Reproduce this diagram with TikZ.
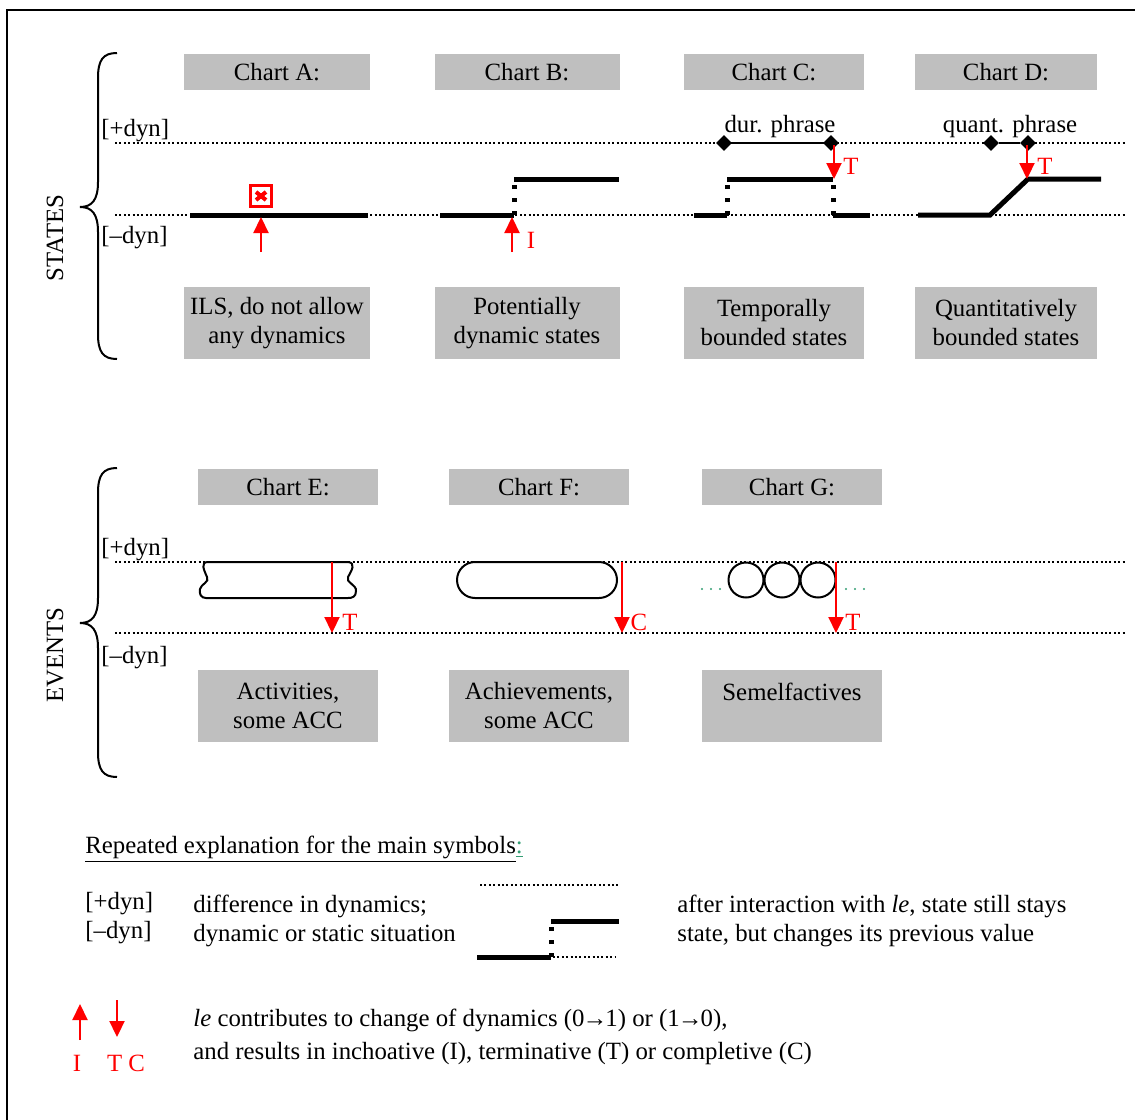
\documentclass[tikz,border=0pt]{standalone}
\usepackage{fontspec}
\setmainfont{Liberation Serif}
\usetikzlibrary{positioning}
\usetikzlibrary{arrows.meta}
\usetikzlibrary{shapes.misc}
\usetikzlibrary{shapes.geometric}
\definecolor{boxgray}{rgb}{0.75,0.75,0.75}
\definecolor{dotgreen}{rgb}{0.2,0.62,0.45}

\begin{document}
\begin{tikzpicture}[
            x = 0.5pt, y = -0.5pt, % one unit = one pixel of the sketch
            > = {Triangle[length=8pt, width=7.5pt]}, % arrow head style
            font = \fontsize{12.4}{14.5}\selectfont,
            dynline/.style = {line width=1pt, dash pattern=on 1pt off 1.2pt},
            stateline/.style = {line width=2.5pt},
            stepline/.style = {line width=2.5pt, dash pattern=on 2.2pt off 4.3pt},
            lechange/.style = {->, red, line width=1.1pt},
            chartbox/.style = {fill=boxgray, minimum width=90pt, minimum height=18pt, inner sep=0pt},
            descbox/.style = {fill=boxgray, minimum width=90pt, minimum height=36pt, inner sep=0pt, align=center},
            lbl/.style = {inner sep=0pt, anchor=west},
            redlbl/.style = {inner sep=0pt, text=red},
            endmark/.style = {diamond, fill=black, inner sep=0pt, minimum size=8pt},
            phrase/.style = {line width=1pt},
            shapeline/.style = {line width=1pt}
        ]

        \useasboundingbox (0,0) rectangle (1135,1119);
        \draw[line width=1pt] (7,1125) -- (7,10) -- (1140,10);

        % braces and group labels
        \foreach \t/\m/\b in {53/207/359, 468/623/777}
            \draw[line width=1pt] (117,\t) .. controls (103,\t) and (98,\t+7) .. (98,\t+25) -- (98,\m-25)
                .. controls (98,\m-7) and (92,\m) .. (80,\m) .. controls (92,\m) and (98,\m+7) .. (98,\m+25)
                -- (98,\b-25) .. controls (98,\b-7) and (103,\b) .. (117,\b);
        \node[rotate=90] (states) at (55,238) {STATES};
        \node[rotate=90] (events) at (55,655) {EVENTS};

        \node[lbl] (plusS) at (101,131) {[+dyn]};
        \node[lbl] (minusS) at (101,238) {[–dyn]};
        \node[lbl] (plusE) at (101,550) {[+dyn]};
        \node[lbl] (minusE) at (101,658) {[–dyn]};

        \foreach \y in {143,215,562,633}
            \draw[dynline] (115,\y) -- (1125,\y);

        % states
        \node[chartbox, minimum width=93pt] (chA) at (277,72) {Chart A:};
        \node[chartbox, minimum width=92.5pt] (chB) at (527,72) {Chart B:};
        \node[chartbox] (chC) at (774,72) {Chart C:};
        \node[chartbox, minimum width=91pt] (chD) at (1006,72) {Chart D:};

        \node[descbox, minimum width=93pt] (dsA) at (277,323) {ILS, do not allow\\any dynamics};
        \node[descbox, minimum width=92.5pt] (dsB) at (527,323) {Potentially\\dynamic states};
        \node[descbox] (dsC) at (774,323) {Temporally\\bounded states};
        \node[descbox, minimum width=91pt] (dsD) at (1006,323) {Quantitatively\\bounded states};

        % chart A
        \draw[stateline] (190,215) -- (368,215);
        \node[draw=red, line width=1.1pt, minimum size=10.5pt, inner sep=0pt] (xA) at (261,196) {};
        \draw[red, line width=2pt] ([shift={(-5,-4)}]xA.center) -- ([shift={(5,4)}]xA.center);
        \draw[red, line width=2pt] ([shift={(-5,4)}]xA.center) -- ([shift={(5,-4)}]xA.center);
        \coordinate (fromA) at (261,252);
        \coordinate (toA) at (261,217);
        \draw[lechange] (fromA) -- (toA);

        % chart B
        \draw[stateline] (440,215) -- (514,215);
        \draw[stepline] (514,215) -- (514,179);
        \draw[stateline] (514,179) -- (619,179);
        \coordinate (fromB) at (512,252);
        \coordinate (toB) at (512,217);
        \draw[lechange] (fromB) -- (toB);
        \node[redlbl] (iB) at (531,240) {I};

        % chart C
        \draw[stateline] (694,215) -- (727,215);
        \draw[stepline] (727,215) -- (727,179);
        \draw[stateline] (727,179) -- (833,179);
        \draw[stepline] (833,215) -- (833,179);
        \draw[stateline] (833,215) -- (870,215);
        \node[endmark] (durL) at (724,143) {};
        \node[endmark] (durR) at (831,143) {};
        \draw[phrase] (durL) -- (durR);
        \node (dur) at (780,127) {dur. phrase};
        \coordinate (fromC) at (834,145);
        \coordinate (toC) at (834,179);
        \draw[lechange] (fromC) -- (toC);
        \node[redlbl] (tC) at (851,166) {T};

        % chart D
        \draw[stateline] (918,215) -- (990,215) -- (1028,179) -- (1101,179);
        \node[endmark] (quantL) at (991,143) {};
        \node[endmark] (quantR) at (1028,143) {};
        \draw[phrase] (quantL) -- (quantR);
        \node (quant) at (1010,127) {quant. phrase};
        \coordinate (fromD) at (1027,145);
        \coordinate (toD) at (1027,179);
        \draw[lechange] (fromD) -- (toD);
        \node[redlbl] (tD) at (1045,166) {T};

        % events
        \node[chartbox] (chE) at (288,487) {Chart E:};
        \node[chartbox] (chF) at (539,487) {Chart F:};
        \node[chartbox] (chG) at (792,487) {Chart G:};

        \node[descbox] (dsE) at (288,706) {Activities,\\some ACC};
        \node[descbox] (dsF) at (539,706) {Achievements,\\some ACC};
        \node[descbox] (dsG) at (792,706) {Semelfactives\\\phantom{A}};

        % chart E
        \draw[shapeline] (208,562) -- (348,562) .. controls (356,563) and (352,570) .. (348,577)
            .. controls (345,582) and (357,585) .. (356,591) .. controls (356,597) and (352,598) .. (348,598)
            -- (206,598) .. controls (201,598) and (199,594) .. (200,589)
            .. controls (201,584) and (210,582) .. (207,577) .. controls (204,570) and (200,562) .. (208,562) -- cycle;
        \coordinate (fromE) at (332,562);
        \coordinate (toE) at (332,633);
        \draw[lechange] (fromE) -- (toE);
        \node[redlbl] (tE) at (350,622) {T};

        % chart F
        \node[rounded rectangle, draw, shapeline, minimum width=80pt, minimum height=18pt, inner sep=0pt] (pillF) at (537,580) {};
        \coordinate (fromF) at (622,562);
        \coordinate (toF) at (622,633);
        \draw[lechange] (fromF) -- (toF);
        \node[redlbl] (cF) at (639,622) {C};

        % chart G
        \foreach \i/\x in {1/746, 2/782, 3/818}
            \node[circle, draw, shapeline, minimum size=17.5pt, inner sep=0pt] (semG\i) at (\x,580) {};
        \foreach \x in {702,711,720,846,855,864}
            \fill[dotgreen] (\x,589) circle (0.55pt);
        \coordinate (fromG) at (836,562);
        \coordinate (toG) at (836,633);
        \draw[lechange] (fromG) -- (toG);
        \node[redlbl] (tG) at (853,622) {T};

        % legend
        \node[lbl] (legend) at (85,849) {\underline{Repeated explanation for the main symbols}\textcolor{dotgreen}{\underline{:}}};
        \node[lbl, align=left] (dynkeys) at (85,918) {[+dyn]\\[0pt][–dyn]};
        \node[lbl, align=left] (dyntext) at (193,921) {difference in dynamics;\\dynamic or static situation};

        \draw[dynline] (480,885) -- (620,885);
        \draw[stateline] (477,957) -- (551,957);
        \draw[stepline] (551,957) -- (551,921);
        \draw[stateline] (551,921) -- (619,921);
        \draw[dynline] (553,957) -- (615,957);
        \node[lbl, align=left] (valtext) at (677,921) {after interaction with \textit{le}, state still stays\\state, but changes its previous value};

        \coordinate (upL) at (80,1040);
        \coordinate (upT) at (80,1004);
        \draw[lechange] (upL) -- (upT);
        \coordinate (downL) at (117,1000);
        \coordinate (downT) at (117,1037);
        \draw[lechange] (downL) -- (downT);
        \node[redlbl] (legI) at (77,1063) {I};
        \node[redlbl] (legTC) at (126,1063) {T C};
        \node[lbl] (letext) at (193,1020) {\textit{le} contributes to change of dynamics (0\kern-1pt→\kern-1pt1) or (1\kern-1pt→\kern-1pt0),};
        \node[lbl] (restext) at (193,1054) {and results in inchoative (I), terminative (T) or completive (C)};

\end{tikzpicture}
\end{document}
